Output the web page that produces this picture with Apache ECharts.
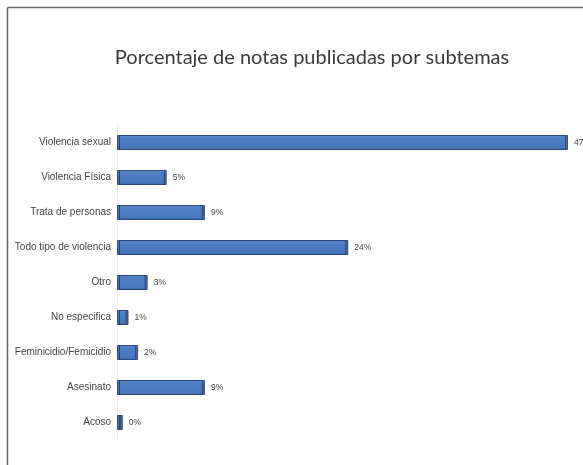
<!DOCTYPE html>
<html>
<head>
<meta charset="utf-8">
<script src="https://cdn.jsdelivr.net/npm/echarts@6/dist/echarts.min.js"></script>
<style>
html,body{margin:0;padding:0;background:#fff;}
#chart{width:583px;height:465px;}
</style>
</head>
<body>
<div id="chart"></div>
<script>
const title = 'Porcentaje de notas publicadas por subtemas';
const categories = ['Violencia sexual','Violencia Física','Trata de personas','Todo tipo de violencia','Otro','No especifica','Feminicidio/Femicidio','Asesinato','Acoso'];
// Acoso is drawn as a tiny bar in the source, labelled 0% (rounded)
const values = [47, 5, 9, 24, 3, 1, 2, 9, 0.4];

const chart = echarts.init(document.getElementById('chart'), null, {renderer:'canvas'});
chart.setOption({
  backgroundColor:'#fff',
  animation:false,
  title:{
    text:title, left:307, top:43, textAlign:'center',
    textStyle:{fontFamily:'Lato', fontSize:20, fontWeight:'normal', color:'#3a3a3a'}
  },
  graphic:[
    {type:'line', shape:{x1:7.5,y1:7.5,x2:583,y2:7.5}, style:{stroke:'#666', lineWidth:1.5}},
    {type:'line', shape:{x1:7.5,y1:7.5,x2:7.5,y2:465}, style:{stroke:'#666', lineWidth:1.5}}
  ],
  grid:{left:117, right:17, top:125, bottom:25},
  xAxis:{
    type:'value', min:0, max:47, show:false
  },
  yAxis:{
    type:'category', data:categories, inverse:true,
    axisLine:{show:true, lineStyle:{color:'#ececec'}},
    axisTick:{show:false},
    axisLabel:{fontFamily:'Liberation Sans', fontSize:10, color:'#444', margin:6}
  },
  series:[{
    type:'bar', data:values, barWidth:15,
    itemStyle:{
      color:new echarts.graphic.LinearGradient(0,0,0,1,[
        {offset:0, color:'#6690cf'},
        {offset:0.15, color:'#4f7fc4'},
        {offset:0.85, color:'#4676bb'},
        {offset:1, color:'#34609f'}
      ]),
      borderColor:'#2a4a80', borderWidth:1,
      shadowColor:'rgba(20,40,80,0.7)', shadowOffsetX:2, shadowBlur:0
    },
    label:{
      show:true, position:'right', distance:8,
      formatter:function(p){ return Math.round(p.value) + '%'; },
      fontFamily:'Liberation Sans', fontSize:8.5, color:'#444'
    }
  }]
});
</script>
</body>
</html>
